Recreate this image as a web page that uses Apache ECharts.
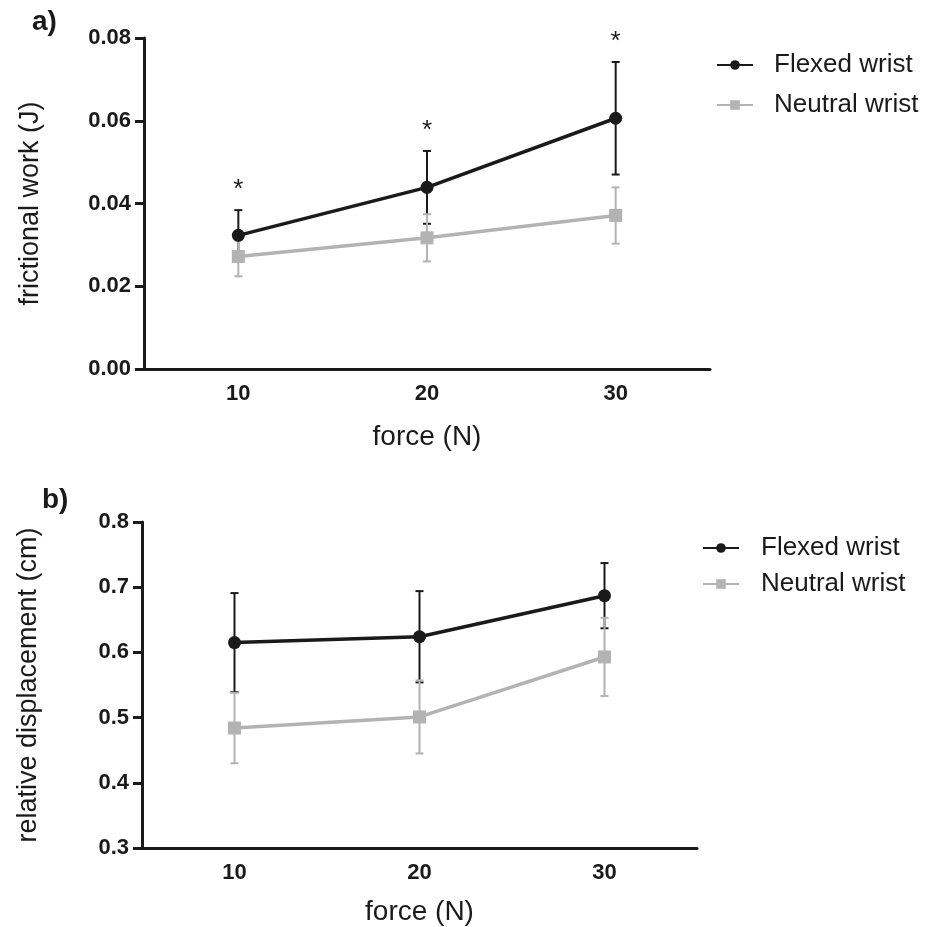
<!DOCTYPE html>
<html>
<head>
<meta charset="utf-8">
<script src="https://cdn.jsdelivr.net/npm/echarts@6/dist/echarts.min.js"></script>
<style>
  html, body { margin: 0; padding: 0; background: #fff; }
  #main { width: 931px; height: 927px; }
</style>
</head>
<body>
<div id="main"></div>
<script>
// x categories
var forces = ['10', '20', '30'];

// a) frictional work (J), mean and SD
var workFlexed = [0.0323, 0.0439, 0.0606];
var workFlexedErr = [0.0061, 0.0088, 0.0136];
var workNeutral = [0.0272, 0.0317, 0.0371];
var workNeutralErr = [0.0048, 0.0057, 0.0068];
var workSig = ['*', '*', '*'];

// b) relative displacement (cm), mean and SD
var dispFlexed = [0.615, 0.624, 0.687];
var dispFlexedErr = [0.076, 0.070, 0.050];
var dispNeutral = [0.484, 0.501, 0.593];
var dispNeutralErr = [0.054, 0.056, 0.060];

var BLACK = '#1a1a1a';
var GREY = '#b3b3b3';
var FONT = 'Liberation Sans, Arial, sans-serif';

function errData(mean, err, sig) {
    return mean.map(function (m, i) {
        return [i, m - err[i], m + err[i], sig ? sig[i] : ''];
    });
}

function errSeries(idx, mean, err, color, z, sig) {
    return {
        type: 'custom',
        xAxisIndex: idx,
        yAxisIndex: idx,
        z: z,
        silent: true,
        data: errData(mean, err, sig),
        renderItem: function (params, api) {
            var lo = api.coord([api.value(0), api.value(1)]);
            var hi = api.coord([api.value(0), api.value(2)]);
            var cap = 4;
            var st = { stroke: color, lineWidth: 2 };
            var kids = [
                { type: 'line', shape: { x1: lo[0], y1: lo[1], x2: hi[0], y2: hi[1] }, style: st },
                { type: 'line', shape: { x1: hi[0] - cap, y1: hi[1], x2: hi[0] + cap, y2: hi[1] }, style: st },
                { type: 'line', shape: { x1: lo[0] - cap, y1: lo[1], x2: lo[0] + cap, y2: lo[1] }, style: st }
            ];
            var s = api.value(3);
            if (s) {
                kids.push({
                    type: 'text',
                    style: {
                        text: s, x: hi[0], y: hi[1] - 7,
                        align: 'center', verticalAlign: 'bottom',
                        font: '26px ' + FONT, fill: BLACK
                    }
                });
            }
            return { type: 'group', children: kids };
        }
    };
}

function lineSeries(idx, name, data, color, symbol, z) {
    return {
        type: 'line',
        name: name,
        xAxisIndex: idx,
        yAxisIndex: idx,
        z: z,
        data: data,
        symbol: symbol,
        symbolSize: 13,
        lineStyle: { color: color, width: 3.5 },
        itemStyle: { color: color },
        emphasis: { disabled: true }
    };
}

function xAxis(idx, gap) {
    return {
        type: 'category',
        gridIndex: idx,
        data: forces,
        boundaryGap: true,
        name: 'force (N)',
        nameLocation: 'middle',
        nameGap: gap,
        nameTextStyle: { fontFamily: FONT, fontSize: 28, color: BLACK },
        axisLine: { lineStyle: { color: BLACK, width: 3 } },
        axisTick: { alignWithLabel: true, length: 9, lineStyle: { color: BLACK, width: 3 } },
        axisLabel: { fontFamily: FONT, fontSize: 22, fontWeight: 'bold', color: BLACK, margin: 14 },
        splitLine: { show: false }
    };
}

function yAxis(idx, name, min, max, step, dec) {
    return {
        type: 'value',
        gridIndex: idx,
        min: min,
        max: max,
        interval: step,
        name: name,
        nameLocation: 'middle',
        nameGap: 100,
        nameTextStyle: { fontFamily: FONT, fontSize: 27, color: BLACK },
        axisLine: { show: true, lineStyle: { color: BLACK, width: 3 } },
        axisTick: { show: true, length: 9, lineStyle: { color: BLACK, width: 3 } },
        axisLabel: {
            fontFamily: FONT, fontSize: 22, fontWeight: 'bold', color: BLACK, margin: 13,
            formatter: function (v) { return v.toFixed(dec); }
        },
        splitLine: { show: false }
    };
}

function legend(left, top, gap, pad) {
    return {
        left: left,
        top: top,
        orient: 'vertical',
        itemWidth: 36,
        itemHeight: 12,
        itemGap: gap,
        textStyle: { fontFamily: FONT, fontSize: 26, color: BLACK, padding: [0, 0, 0, pad] },
        data: ['Flexed wrist', 'Neutral wrist']
    };
}

var chart = echarts.init(document.getElementById('main'));
var option = {
    backgroundColor: '#fff',
    animation: false,
    title: [
        { text: 'a)', left: 27, top: 3, textStyle: { fontFamily: FONT, fontSize: 28, fontWeight: 'bold', color: BLACK } },
        { text: 'b)', left: 37, top: 481, textStyle: { fontFamily: FONT, fontSize: 28, fontWeight: 'bold', color: BLACK } }
    ],
    legend: [legend(711, 47, 14, 16), legend(697, 530, 10, 17)],
    grid: [
        { left: 144, top: 38, width: 566, height: 331, outerBoundsMode: 'none' },
        { left: 142, top: 522, width: 555, height: 326, outerBoundsMode: 'none' }
    ],
    xAxis: [xAxis(0, 54), xAxis(1, 50)],
    yAxis: [
        yAxis(0, 'frictional work (J)', 0, 0.08, 0.02, 2),
        yAxis(1, 'relative displacement (cm)', 0.3, 0.8, 0.1, 1)
    ],
    series: [
        errSeries(0, workFlexed, workFlexedErr, BLACK, 1, workSig),
        errSeries(0, workNeutral, workNeutralErr, GREY, 2),
        lineSeries(0, 'Neutral wrist', workNeutral, GREY, 'rect', 3),
        lineSeries(0, 'Flexed wrist', workFlexed, BLACK, 'circle', 4),
        errSeries(1, dispFlexed, dispFlexedErr, BLACK, 1),
        errSeries(1, dispNeutral, dispNeutralErr, GREY, 2),
        lineSeries(1, 'Neutral wrist', dispNeutral, GREY, 'rect', 3),
        lineSeries(1, 'Flexed wrist', dispFlexed, BLACK, 'circle', 4)
    ]
};
chart.setOption(option);
window.addEventListener('resize', chart.resize);
</script>
</body>
</html>
